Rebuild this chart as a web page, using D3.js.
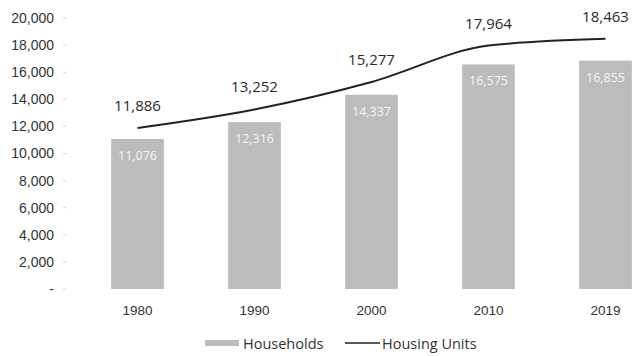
<!DOCTYPE html>
<html>
<head>
<meta charset="utf-8">
<script src="https://cdn.jsdelivr.net/npm/d3@7"></script>
<style>
  html, body { margin: 0; padding: 0; background: #fff; }
  svg { display: block; font-family: "Open Sans", Lato, sans-serif; }
</style>
</head>
<body>
<svg id="chart" width="636" height="356"></svg>
<script>
// Households and housing units by census year
const years = ["1980", "1990", "2000", "2010", "2019"];
const households = [11076, 12316, 14337, 16575, 16855];
const housingUnits = [11886, 13252, 15277, 17964, 18463];
const yTicks = [0, 2000, 4000, 6000, 8000, 10000, 12000, 14000, 16000, 18000, 20000];

const svg = d3.select("#chart");
const W = 636, H = 356;
const plot = { left: 79, right: 664, top: 18, bottom: 289 };

const x = d3.scaleBand()
  .domain(years)
  .range([plot.left, plot.right])
  .paddingInner(0.55)
  .paddingOuter(0.275);

const y = d3.scaleLinear()
  .domain([0, 20000])
  .range([plot.bottom, plot.top]);

const fmt = d3.format(",");

// Y axis (accounting style: zero shown as a dash)
const yAxis = d3.axisLeft(y)
  .tickValues(yTicks)
  .tickSize(0)
  .tickPadding(25)
  .tickFormat(d => d === 0 ? "-" : fmt(d));

const gy = svg.append("g")
  .attr("transform", `translate(${plot.left},0)`)
  .call(yAxis);
gy.select(".domain").remove();
gy.selectAll("text")
  .attr("fill", "#333")
  .style("font-size", "14px");

// faint tick marks beside the labels
svg.append("g").selectAll("line")
  .data(yTicks)
  .join("line")
  .attr("x1", plot.left - 16).attr("x2", plot.left - 13)
  .attr("y1", d => y(d)).attr("y2", d => y(d))
  .attr("stroke", "#d6d6d6").attr("stroke-width", 1);

// X axis labels
const xAxis = d3.axisBottom(x).tickSize(0).tickPadding(16);
const gx = svg.append("g")
  .attr("transform", `translate(0,${plot.bottom})`)
  .call(xAxis);
gx.select(".domain").remove();
gx.selectAll("text")
  .attr("fill", "#333")
  .style("font-size", "13.5px");

// Household bars
const bars = svg.append("g");
bars.selectAll("rect")
  .data(years)
  .join("rect")
  .attr("x", d => x(d))
  .attr("width", x.bandwidth())
  .attr("y", (d, i) => y(households[i]))
  .attr("height", (d, i) => y(0) - y(households[i]))
  .attr("fill", "#bcbcbc");

// Household value labels inside the bars
bars.selectAll("text")
  .data(years)
  .join("text")
  .attr("x", d => x(d) + x.bandwidth() / 2)
  .attr("y", (d, i) => y(households[i]) + 21)
  .attr("text-anchor", "middle")
  .attr("fill", "#f6f6f6")
  .style("font-size", "12.5px")
  .text((d, i) => fmt(households[i]));

// Housing units line
const cx = d => x(d) + x.bandwidth() / 2;
const line = d3.line()
  .x((d, i) => cx(years[i]))
  .y(d => y(d))
  .curve(d3.curveMonotoneX);

svg.append("path")
  .datum(housingUnits)
  .attr("d", line)
  .attr("fill", "none")
  .attr("stroke", "#222")
  .attr("stroke-width", 2);

// Housing unit value labels above the line
svg.append("g").selectAll("text")
  .data(housingUnits)
  .join("text")
  .attr("x", (d, i) => cx(years[i]))
  .attr("y", d => y(d) - 17)
  .attr("text-anchor", "middle")
  .attr("fill", "#2a2a2a")
  .style("font-size", "15px")
  .text(d => fmt(d));

// Legend
const legend = svg.append("g").attr("transform", `translate(0,${H - 12})`);
legend.append("rect")
  .attr("x", 205).attr("y", -4).attr("width", 34).attr("height", 6)
  .attr("fill", "#bcbcbc");
legend.append("text")
  .attr("x", 243).attr("y", 0).attr("dy", "0.35em")
  .attr("fill", "#333").style("font-size", "14.5px")
  .text("Households");
legend.append("line")
  .attr("x1", 345).attr("x2", 380).attr("y1", -1).attr("y2", -1)
  .attr("stroke", "#222").attr("stroke-width", 1.5);
legend.append("text")
  .attr("x", 382).attr("y", 0).attr("dy", "0.35em")
  .attr("fill", "#333").style("font-size", "14.5px")
  .text("Housing Units");
</script>
</body>
</html>
